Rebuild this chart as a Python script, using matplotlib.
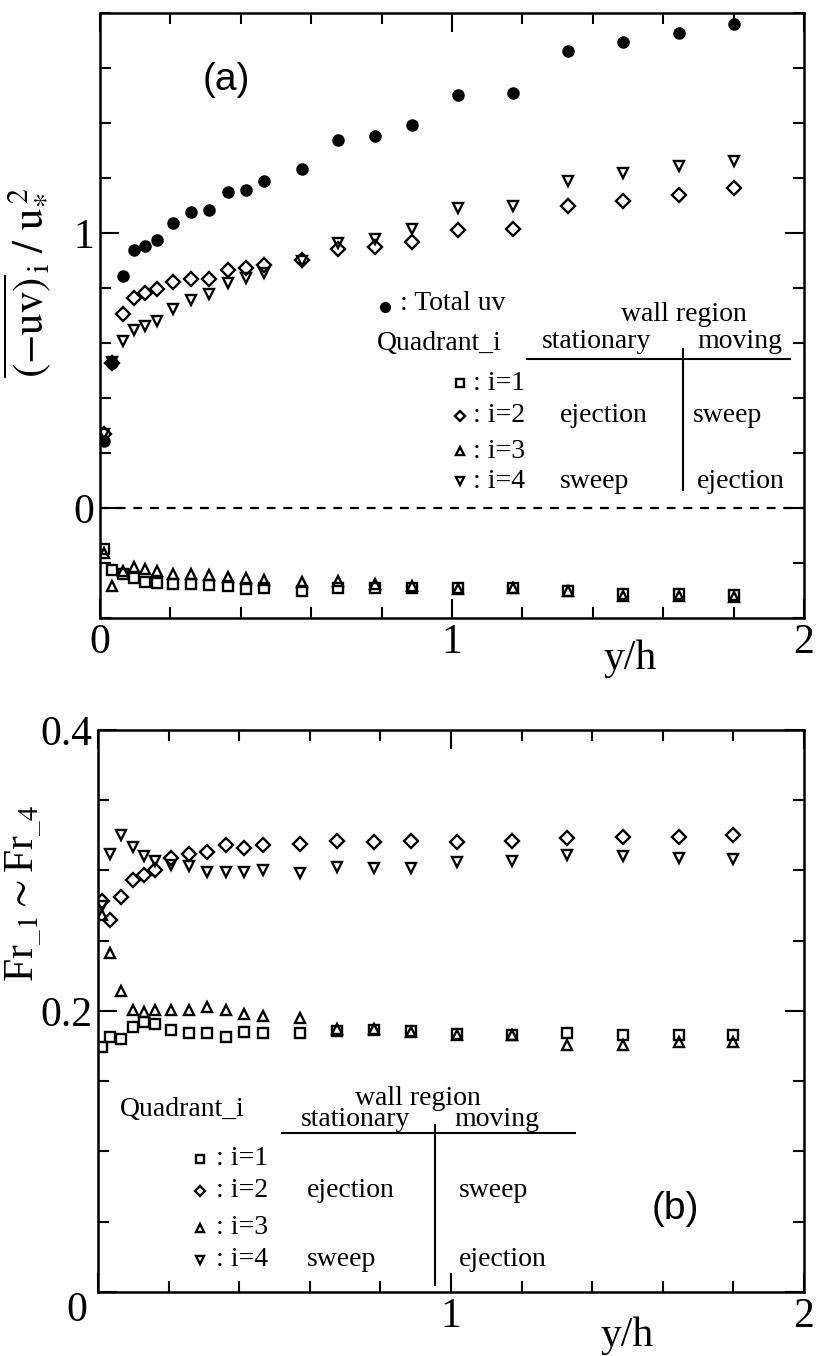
import matplotlib
matplotlib.use("Agg")
import matplotlib.pyplot as plt
from matplotlib.ticker import MultipleLocator, FixedLocator

plt.rcParams['font.family'] = ['Liberation Serif', 'DejaVu Serif']
plt.rcParams['mathtext.fontset'] = 'stix'

# measurement heights y/h (shared by both panels)
y_over_h = [0.01, 0.034, 0.066, 0.098, 0.129, 0.161, 0.206, 0.258, 0.309, 0.363, 0.414,
            0.466, 0.573, 0.677, 0.781, 0.886, 1.016, 1.173, 1.330, 1.487, 1.646, 1.800]

# (a) quadrant Reynolds-stress contributions normalised by u*^2
uv_total = [0.245, 0.526, 0.845, 0.940, 0.954, 0.973, 1.035, 1.076, 1.082, 1.149, 1.155,
            1.188, 1.232, 1.340, 1.353, 1.394, 1.503, 1.510, 1.662, 1.696, 1.728, 1.761]
uv_q1 = [-0.150, -0.225, -0.241, -0.256, -0.270, -0.274, -0.276, -0.276, -0.281, -0.283, -0.296,
         -0.292, -0.300, -0.289, -0.289, -0.289, -0.289, -0.290, -0.300, -0.311, -0.311, -0.316]
uv_q2 = [0.270, 0.526, 0.705, 0.762, 0.783, 0.795, 0.823, 0.833, 0.833, 0.865, 0.873,
         0.885, 0.902, 0.942, 0.949, 0.967, 1.012, 1.016, 1.098, 1.117, 1.138, 1.162]
uv_q3 = [-0.165, -0.283, -0.228, -0.216, -0.223, -0.228, -0.238, -0.238, -0.244, -0.250, -0.256,
         -0.260, -0.268, -0.267, -0.275, -0.285, -0.295, -0.290, -0.300, -0.320, -0.320, -0.325]
uv_q4 = [0.270, 0.530, 0.608, 0.647, 0.663, 0.679, 0.724, 0.756, 0.777, 0.819, 0.837,
         0.853, 0.898, 0.962, 0.980, 1.015, 1.090, 1.100, 1.190, 1.217, 1.242, 1.261]

# (b) fraction of occurrence of each quadrant event
fr_q1 = [0.1747, 0.1813, 0.180, 0.1888, 0.192, 0.1904, 0.1865, 0.184, 0.184, 0.1813, 0.185,
         0.184, 0.1846, 0.1855, 0.1862, 0.1855, 0.1838, 0.183, 0.1845, 0.183, 0.183, 0.183]
fr_q2 = [0.278, 0.265, 0.281, 0.293, 0.297, 0.300, 0.309, 0.312, 0.313, 0.318, 0.316,
         0.318, 0.319, 0.321, 0.320, 0.321, 0.320, 0.321, 0.323, 0.324, 0.324, 0.325]
fr_q3 = [0.268, 0.2415, 0.214, 0.2005, 0.199, 0.201, 0.2005, 0.201, 0.203, 0.2005, 0.198,
         0.1965, 0.195, 0.187, 0.187, 0.185, 0.183, 0.183, 0.176, 0.176, 0.178, 0.178]
fr_q4 = [0.275, 0.312, 0.325, 0.317, 0.310, 0.307, 0.304, 0.303, 0.299, 0.299, 0.299,
         0.300, 0.298, 0.3025, 0.302, 0.302, 0.306, 0.307, 0.311, 0.310, 0.309, 0.308]

quad_labels = [': i=1', ': i=2', ': i=3', ': i=4']
quad_markers = ['s', 'D', '^', 'v']
quad_sizes = [7.5, 7.0, 7.5, 7.5]

fig = plt.figure(figsize=(8.17, 13.56), dpi=100)
ax1 = fig.add_axes([0.1224, 0.5442, 0.8616, 0.4462])
ax2 = fig.add_axes([0.1200, 0.0472, 0.8640, 0.4145])

TXT = 20
open_kw = dict(linestyle='none', markerfacecolor='none', markeredgecolor='black',
               markeredgewidth=1.7)


def style_axes(ax):
    for s in ax.spines.values():
        s.set_linewidth(1.8)
    ax.tick_params(which='both', direction='in', top=True, right=True,
                   width=1.5, labelsize=30, pad=4)
    ax.tick_params(which='major', length=14)
    ax.tick_params(which='minor', length=8)
    ax.set_xlim(0, 2)
    ax.xaxis.set_major_locator(FixedLocator([0, 1, 2]))
    ax.xaxis.set_minor_locator(MultipleLocator(0.2))
    ax.set_xticklabels(['0', '1', '2'])


# ---------------- panel (a) ----------------
style_axes(ax1)
ax1.set_ylim(-0.4, 1.8)
ax1.yaxis.set_major_locator(FixedLocator([0, 1]))
ax1.yaxis.set_minor_locator(MultipleLocator(0.2))
ax1.set_yticklabels(['0', '1'])
ax1.axhline(0, color='black', lw=1.6, ls=(0, (4, 3.5)))

ax1.plot(y_over_h, uv_total, 'o', color='black', markersize=8, linestyle='none')
for vals, mk, ms in zip([uv_q1, uv_q2, uv_q3, uv_q4], quad_markers, quad_sizes):
    ax1.plot(y_over_h, vals, mk, markersize=ms, **open_kw)

ax1.set_xlabel('y/h', fontsize=30)
ax1.xaxis.set_label_coords(0.753, -0.036)
ax1.set_ylabel(r'$\overline{(-\mathrm{uv})}_{\,\mathrm{i}}\ /\ \mathrm{u}_{*}^{\,2}$', fontsize=31)
ax1.yaxis.set_label_coords(-0.071, 0.554)

ax1.text(0.36, 1.558, '(a)', fontsize=28, family='Liberation Sans', ha='center', va='center')

# key for panel (a)
ax1.plot([0.81], [0.731], 'o', color='black', markersize=7)
ax1.text(0.852, 0.742, ': Total uv', fontsize=TXT, va='center')
ax1.text(0.787, 0.600, 'Quadrant_i', fontsize=TXT, va='center')
ax1.text(1.66, 0.705, 'wall region', fontsize=TXT, ha='center', va='center')
ax1.text(1.41, 0.607, 'stationary', fontsize=TXT, ha='center', va='center')
ax1.text(1.818, 0.607, 'moving', fontsize=TXT, ha='center', va='center')
ax1.plot([1.213, 1.96], [0.542, 0.542], color='black', lw=1.5)
ax1.plot([1.656, 1.656], [0.578, 0.065], color='black', lw=1.5)
rows_a = [0.453, 0.335, 0.207, 0.098]
for r, mk, ms, lab in zip(rows_a, quad_markers, quad_sizes, quad_labels):
    ax1.plot([1.023], [r], mk, markersize=ms - 1.5, **open_kw)
    ax1.text(1.06, r, lab, fontsize=TXT, va='center')
ax1.text(1.307, rows_a[1], 'ejection', fontsize=TXT, va='center')
ax1.text(1.685, rows_a[1], 'sweep', fontsize=TXT, va='center')
ax1.text(1.307, rows_a[3], 'sweep', fontsize=TXT, va='center')
ax1.text(1.696, rows_a[3], 'ejection', fontsize=TXT, va='center')

# ---------------- panel (b) ----------------
style_axes(ax2)
ax2.set_ylim(0, 0.4)
ax2.yaxis.set_major_locator(FixedLocator([0, 0.2, 0.4]))
ax2.yaxis.set_minor_locator(MultipleLocator(0.05))
ax2.set_yticklabels(['', '0.2', '0.4'])
ax2.set_xticklabels(['', '1', '2'])
# shared origin label in the lower-left corner
ax2.text(-0.03, -0.034, '0', fontsize=30, ha='center', va='center',
         transform=ax2.transAxes)

for vals, mk, ms in zip([fr_q1, fr_q2, fr_q3, fr_q4], quad_markers, quad_sizes):
    ax2.plot(y_over_h, vals, mk, markersize=ms, **open_kw)

ax2.set_xlabel('y/h', fontsize=30)
ax2.xaxis.set_label_coords(0.749, -0.043)
ax2.set_ylabel(r'Fr$_{\_1}$$\sim$Fr$_{\_4}$', fontsize=30)
ax2.yaxis.set_label_coords(-0.078, 0.71)

ax2.text(1.637, 0.059, '(b)', fontsize=28, family='Liberation Sans', ha='center', va='center')

# key for panel (b)
ax2.text(0.062, 0.130, 'Quadrant_i', fontsize=TXT, va='center')
ax2.text(0.907, 0.138, 'wall region', fontsize=TXT, ha='center', va='center')
ax2.text(0.731, 0.123, 'stationary', fontsize=TXT, ha='center', va='center')
ax2.text(1.13, 0.123, 'moving', fontsize=TXT, ha='center', va='center')
ax2.plot([0.521, 1.351], [0.113, 0.113], color='black', lw=1.5)
ax2.plot([0.955, 0.955], [0.119, 0.005], color='black', lw=1.5)
rows_b = [0.0947, 0.072, 0.0456, 0.0228]
for r, mk, ms, lab in zip(rows_b, quad_markers, quad_sizes, quad_labels):
    ax2.plot([0.289], [r], mk, markersize=ms - 1.5, **open_kw)
    ax2.text(0.335, r, lab, fontsize=TXT, va='center')
ax2.text(0.592, rows_b[1], 'ejection', fontsize=TXT, va='center')
ax2.text(0.592, rows_b[3], 'sweep', fontsize=TXT, va='center')
ax2.text(1.023, rows_b[1], 'sweep', fontsize=TXT, va='center')
ax2.text(1.023, rows_b[3], 'ejection', fontsize=TXT, va='center')

fig.savefig('out.png', dpi=100)
